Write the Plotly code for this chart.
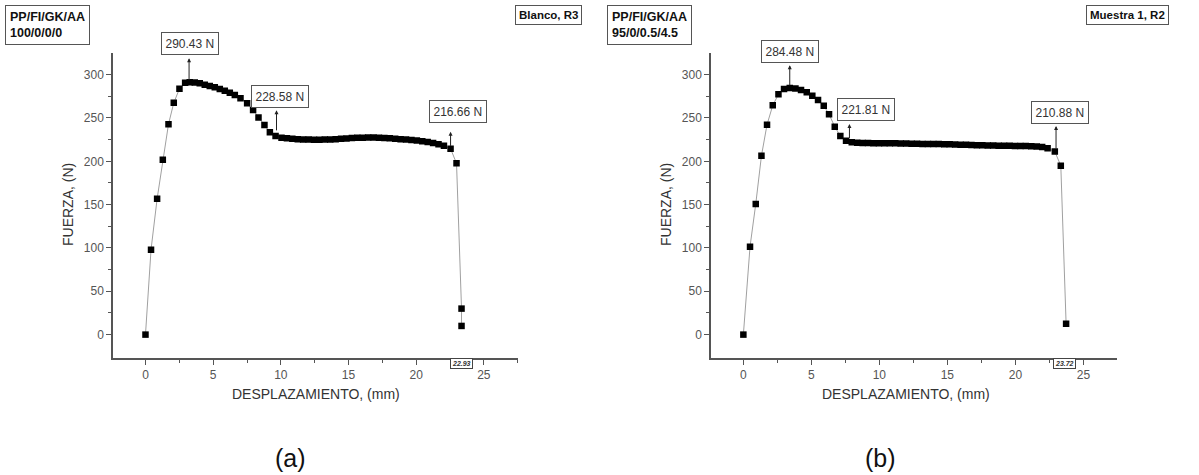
import plotly.graph_objects as go

# ---------------- data (a) Blanco, R3 ----------------
xa = [0, 0.41, 0.86, 1.28, 1.70, 2.09, 2.51, 2.93, 3.27, 3.64, 4.01, 4.38, 4.75, 5.12,
      5.49, 5.86, 6.23, 6.60, 7.02, 7.51, 7.95, 8.35, 8.79, 9.19, 9.61, 10.05,
      10.45, 10.85, 11.25, 11.65, 12.05, 12.45, 12.85, 13.25, 13.65, 14.05, 14.45,
      14.85, 15.25, 15.65, 16.05, 16.45, 16.85, 17.25, 17.65, 18.05, 18.45, 18.85,
      19.25, 19.65, 20.05, 20.45, 20.85, 21.25, 21.65, 22.05, 22.54, 22.98, 23.35, 23.35]
ya = [0, 98, 156.7, 201.7, 242.8, 267.5, 283.7, 290.6, 291.2, 291.0, 290.0, 288.5, 287.0, 285.4,
      283.5, 281.5, 279.2, 276.5, 272.7, 266.9, 259.2, 250.7, 241.9, 233.4, 229.2, 227.3,
      226.5, 226.0, 225.6, 225.3, 225.1, 225.0, 225.0, 225.1, 225.3, 225.6, 226.0,
      226.4, 226.8, 227.1, 227.3, 227.4, 227.4, 227.3, 227.0, 226.6, 226.1, 225.6,
      225.1, 224.5, 223.9, 223.2, 222.3, 221.2, 219.8, 218.0, 214.5, 197.7, 30.0, 10.0]

# ---------------- data (b) Muestra 1, R2 ----------------
xb = [0, 0.49, 0.91, 1.33, 1.74, 2.16, 2.58, 2.99, 3.41, 3.83, 4.24, 4.66, 5.07, 5.49,
      5.91, 6.30, 6.72, 7.13, 7.55, 7.97,
      8.37, 8.77, 9.17, 9.57, 9.97, 10.37, 10.77, 11.17, 11.57, 11.97, 12.37, 12.77,
      13.17, 13.57, 13.97, 14.37, 14.77, 15.17, 15.57, 15.97, 16.37, 16.77, 17.17,
      17.57, 17.97, 18.37, 18.77, 19.17, 19.57, 19.97, 20.37, 20.77, 21.17, 21.57,
      21.97, 22.37, 22.9, 23.34, 23.73]
yb = [0, 101.5, 150.8, 206.5, 242.3, 264.6, 277.3, 283.5, 284.48, 283.9, 282.3, 279.6, 275.8, 270.8,
      264.2, 254.2, 240.0, 229.2, 223.8, 221.9,
      221.3, 221.1, 221.0, 220.9, 220.9, 220.8, 220.8, 220.7, 220.6, 220.5, 220.4, 220.2,
      220.1, 220.0, 219.9, 219.9, 219.8, 219.6, 219.4, 219.2, 219.0, 218.8, 218.6,
      218.4, 218.3, 218.2, 218.1, 218.0, 217.9, 217.8, 217.7, 217.6, 217.4, 217.1,
      216.4, 215.0, 211.2, 195.0, 12.5]

# annotated values: label, arrow x, arrow base y, arrow tip y
ann_a_text = ["290.43 N", "228.58 N", "216.66 N"]
ann_a_x = [3.22, 9.68, 22.54]
ann_a_y0 = [292, 234, 216]
ann_a_y1 = [319, 259, 234]

ann_b_text = ["284.48 N", "221.81 N", "210.88 N"]
ann_b_x = [3.41, 7.80, 22.99]
ann_b_y0 = [286, 225, 213]
ann_b_y1 = [311, 243, 240.8]

break_a = "22.93"
break_b = "23.72"

W, H = 1199, 475

# label box centres (pixels from top-left)
box_pos_a = [(190, 43), (279.5, 96.7), (457.8, 111.2)]
box_pos_b = [(790, 51.7), (866.3, 109.5), (1059.5, 112.5)]

fig = go.Figure()

for xs, ys, xr, yr in [(xa, ya, "x", "y"), (xb, yb, "x2", "y2")]:
    fig.add_trace(go.Scatter(
        x=xs, y=ys, mode="lines+markers", xaxis=xr, yaxis=yr,
        line=dict(color="#a0a0a0", width=1),
        marker=dict(symbol="square", size=6.5, color="black", line=dict(width=0)),
        showlegend=False, hoverinfo="x+y"))


def px(v):
    return v / W


def py(v):
    return 1 - v / H


axis_common = dict(showgrid=False, zeroline=False, showline=True, linecolor="#555555",
                   linewidth=1.5, ticks="outside", ticklen=5, tickwidth=1, tickcolor="#555555",
                   tickfont=dict(family="Liberation Sans, Arial", size=12, color="#555555"))
xminor = dict(tickvals=[2.5, 7.5, 12.5, 17.5, 22.5, 27.5], ticks="outside", ticklen=3, tickcolor="#555555")
yminor = dict(tickvals=[25, 75, 125, 175, 225, 275], ticks="outside", ticklen=3, tickcolor="#555555")

xdom_a = [px(113), px(517.7)]
xdom_b = [px(711), px(1116.7)]
ydom = [py(358), py(53)]

fig.update_layout(
    width=W, height=H, margin=dict(l=0, r=0, t=0, b=0),
    paper_bgcolor="white", plot_bgcolor="white",
    xaxis=dict(domain=xdom_a, range=[-2.4, 27.5], anchor="y", tickvals=[0, 5, 10, 15, 20, 25],
               minor=xminor, **axis_common),
    yaxis=dict(domain=ydom, range=[-27, 325], anchor="x", tickvals=[0, 50, 100, 150, 200, 250, 300],
               minor=yminor, **axis_common),
    xaxis2=dict(domain=xdom_b, range=[-2.38, 27.45], anchor="y2", tickvals=[0, 5, 10, 15, 20, 25],
                minor=xminor, **axis_common),
    yaxis2=dict(domain=ydom, range=[-27, 325], anchor="x2", tickvals=[0, 50, 100, 150, 200, 250, 300],
                minor=yminor, **axis_common),
)

anns = []
C = dict(xanchor="center", yanchor="middle")
font_box = dict(family="Liberation Sans, Arial", size=12, color="#333333")
for texts, xs, y0s, y1s, boxes, xr, yr in [
        (ann_a_text, ann_a_x, ann_a_y0, ann_a_y1, box_pos_a, "x", "y"),
        (ann_b_text, ann_b_x, ann_b_y0, ann_b_y1, box_pos_b, "x2", "y2")]:
    for t, x, y0, y1, (bx, by) in zip(texts, xs, y0s, y1s, boxes):
        anns.append(dict(x=x, y=y1, ax=x, ay=y0, xref=xr, yref=yr, axref=xr, ayref=yr,
                         text="", showarrow=True, arrowhead=2, arrowsize=0.8, arrowwidth=1,
                         arrowcolor="#222222", standoff=0, startstandoff=0))
        anns.append(dict(x=px(bx), y=py(by), xref="paper", yref="paper", text=t, showarrow=False,
                         font=font_box, bordercolor="#555555", borderwidth=1, borderpad=3.5,
                         bgcolor="white", **C))

# break value boxes on x axis
for t, cx in [(break_a, 461), (break_b, 1064)]:
    anns.append(dict(x=px(cx), y=py(363.5), xref="paper", yref="paper", text="<b><i>" + t + "</i></b>",
                     showarrow=False, font=dict(family="Liberation Sans, Arial", size=7, color="#333333"),
                     bordercolor="#444444", borderwidth=1, borderpad=1, bgcolor="white", **C))

# corner labels
big_corner = dict(family="Liberation Sans, Arial", size=12.5, color="#111111")
small_corner = dict(family="Liberation Sans, Arial", size=11.5, color="#111111")
anns.append(dict(x=px(5), y=py(5), xref="paper", yref="paper", xanchor="left", yanchor="top",
                 text="<b>PP/FI/GK/AA</b><br><b>100/0/0/0</b>", align="left", showarrow=False,
                 font=big_corner, bordercolor="#555555", borderwidth=1, borderpad=4, bgcolor="white"))
anns.append(dict(x=px(582), y=py(5), xref="paper", yref="paper", xanchor="right", yanchor="top",
                 text="<b>Blanco, R3</b>", showarrow=False,
                 font=small_corner, bordercolor="#555555", borderwidth=1, borderpad=3, bgcolor="white"))
anns.append(dict(x=px(607), y=py(5), xref="paper", yref="paper", xanchor="left", yanchor="top",
                 text="<b>PP/FI/GK/AA</b><br><b>95/0/0.5/4.5</b>", align="left", showarrow=False,
                 font=big_corner, bordercolor="#555555", borderwidth=1, borderpad=4, bgcolor="white"))
anns.append(dict(x=px(1169), y=py(5), xref="paper", yref="paper", xanchor="right", yanchor="top",
                 text="<b>Muestra 1, R2</b>", showarrow=False,
                 font=small_corner, bordercolor="#555555", borderwidth=1, borderpad=3, bgcolor="white"))

# axis titles
title_font = dict(family="Liberation Sans, Arial", size=14, color="#333333")
for cx in [68, 666]:
    anns.append(dict(x=px(cx), y=py(205), xref="paper", yref="paper", text="FUERZA, (N)",
                     textangle=-90, showarrow=False, font=title_font, **C))
for cx in [316, 906]:
    anns.append(dict(x=px(cx), y=py(394), xref="paper", yref="paper", text="DESPLAZAMIENTO, (mm)",
                     showarrow=False, font=title_font, **C))

# panel labels
for t, cx in [("(a)", 290), ("(b)", 880)]:
    anns.append(dict(x=px(cx), y=py(458), xref="paper", yref="paper", text=t, showarrow=False,
                     font=dict(family="Liberation Sans, Arial", size=25, color="#111111"), **C))

fig.update_layout(annotations=anns)
fig.write_html("out.html", config={"displayModeBar": False},
               post_script="document.body.style.margin='0';document.body.style.overflow='hidden';")
